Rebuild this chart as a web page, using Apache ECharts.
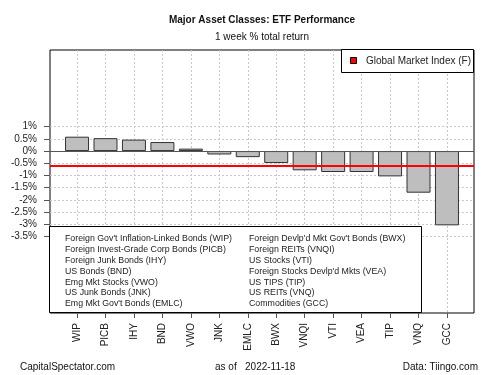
<!DOCTYPE html>
<html>
<head>
<meta charset="utf-8">
<title>Major Asset Classes: ETF Performance</title>
<script src="https://cdn.jsdelivr.net/npm/echarts@6/dist/echarts.min.js"></script>
<style>
  html, body { margin: 0; padding: 0; background: #fff; }
  #chart { width: 500px; height: 375px; }
</style>
</head>
<body>
<div id="chart"></div>
<script>
// data
const tickers = ['WIP', 'PICB', 'IHY', 'BND', 'VWO', 'JNK', 'EMLC', 'BWX', 'VNQI', 'VTI', 'VEA', 'TIP', 'VNQ', 'GCC']
const returns = [0.59, 0.53, 0.47, 0.37, 0.10, -0.14, -0.25, -0.49, -0.79, -0.86, -0.86, -1.04, -1.71, -3.05]
const globalIndex = -0.60
const yTicks = [-3.5, -3, -2.5, -2, -1.5, -1, -0.5, 0, 0.5, 1]
const namesLeft = [
  "Foreign Gov't Inflation-Linked Bonds (WIP)",
  'Foreign Invest-Grade Corp Bonds (PICB)',
  'Foreign Junk Bonds (IHY)',
  'US Bonds (BND)',
  'Emg Mkt Stocks (VWO)',
  'US Junk Bonds (JNK)',
  "Emg Mkt Gov't Bonds (EMLC)",
]
const namesRight = [
  "Foreign Devlp'd Mkt Gov't Bonds (BWX)",
  'Foreign REITs (VNQI)',
  'US Stocks (VTI)',
  "Foreign Stocks Devlp'd Mkts (VEA)",
  'US TIPS (TIP)',
  'US REITs (VNQ)',
  'Commodities (GCC)',
]

const font = '"Liberation Sans", Arial, sans-serif'
const xPos = tickers.map((t, i) => i)

const legendText = []
namesLeft.forEach((n, i) => {
  legendText.push({ type: 'text', z: 101, x: 65, y: 239 + i * 10.8,
    style: { text: n, font: '8.8px ' + font, fill: '#222', verticalAlign: 'middle' } })
})
namesRight.forEach((n, i) => {
  legendText.push({ type: 'text', z: 101, x: 249, y: 239 + i * 10.8,
    style: { text: n, font: '8.8px ' + font, fill: '#222', verticalAlign: 'middle' } })
})

const chart = echarts.init(document.getElementById('chart'), null, { renderer: 'canvas' })

chart.setOption({
  animation: false,
  backgroundColor: '#fff',
  grid: {
    left: 50, right: 26, top: 50, bottom: 62,
    show: true, borderColor: '#000', borderWidth: 1,
  },
  xAxis: {
    type: 'value',
    position: 'bottom',
    min: -0.95,
    max: 13.95,
    axisLine: { show: false, onZero: false },
    axisTick: { show: true, customValues: xPos, length: 5, lineStyle: { color: '#555' } },
    axisLabel: {
      customValues: xPos,
      rotate: 90,
      margin: 10,
      fontSize: 10,
      fontFamily: font,
      color: '#222',
      formatter: (v) => tickers[Math.round(v)],
    },
    splitLine: { show: true, lineStyle: { color: '#c8c8c8', type: [2, 2], width: 1 } },
  },
  yAxis: {
    type: 'value',
    position: 'left',
    min: -6.65,
    max: 4.15,
    axisLine: { show: false, onZero: false },
    axisTick: { show: true, customValues: yTicks, length: 6, lineStyle: { color: '#555' } },
    axisLabel: {
      customValues: yTicks,
      margin: 13,
      fontSize: 10,
      fontFamily: font,
      color: '#222',
      formatter: (v) => v + '%',
    },
    splitLine: { show: true, lineStyle: { color: '#c8c8c8', type: [2, 2], width: 1 } },
  },
  series: [
    {
      type: 'bar',
      barWidth: 24,
      data: returns.map((v, i) => [i, v]),
      itemStyle: { color: '#bebebe', borderColor: '#333', borderWidth: 1 },
      markLine: {
        silent: true,
        symbol: 'none',
        label: { show: false },
        data: [
          { yAxis: 0, lineStyle: { color: '#555', type: 'solid', width: 1 } },
          { yAxis: globalIndex, lineStyle: { color: '#ff0000', type: 'solid', width: 2 } },
        ],
      },
    },
  ],
  graphic: [
    { type: 'text', x: 262, y: 20, style: { text: 'Major Asset Classes: ETF Performance', font: 'bold 10px ' + font, fill: '#111', align: 'center', verticalAlign: 'middle' } },
    { type: 'text', x: 262, y: 37, style: { text: '1 week % total return', font: '10px ' + font, fill: '#111', align: 'center', verticalAlign: 'middle' } },
    // top-right legend
    { type: 'rect', z: 100, shape: { x: 341.5, y: 49.5, width: 132, height: 23 }, style: { fill: '#fff', stroke: '#000', lineWidth: 1 } },
    { type: 'rect', z: 101, shape: { x: 350.5, y: 57.5, width: 6, height: 6 }, style: { fill: '#ff0000', stroke: '#000', lineWidth: 1 } },
    { type: 'text', z: 101, x: 366, y: 61, style: { text: 'Global Market Index (F)', font: '10px ' + font, fill: '#222', verticalAlign: 'middle' } },
    // bottom legend with fund names
    { type: 'rect', z: 100, shape: { x: 49.5, y: 226.5, width: 372, height: 86 }, style: { fill: '#fff', stroke: '#000', lineWidth: 1 } },
    ...legendText,
    // footer
    { type: 'text', x: 20, y: 367, style: { text: 'CapitalSpectator.com', font: '10px ' + font, fill: '#111', verticalAlign: 'middle' } },
    { type: 'text', x: 215, y: 367, style: { text: 'as of   2022-11-18', font: '10px ' + font, fill: '#111', verticalAlign: 'middle' } },
    { type: 'text', x: 478, y: 367, style: { text: 'Data: Tiingo.com', font: '10px ' + font, fill: '#111', align: 'right', verticalAlign: 'middle' } },
  ],
})

window.addEventListener('resize', () => chart.resize())
</script>
</body>
</html>
